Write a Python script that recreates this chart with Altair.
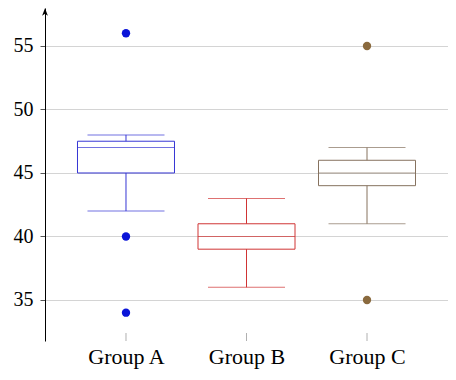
import altair as alt
import pandas as pd

groups = ["Group A", "Group B", "Group C"]
lower_whisker = [42, 36, 41]
q1 = [45, 39, 44]
median = [47, 40, 45]
q3 = [47.5, 41, 46]
upper_whisker = [48, 43, 47]
box_colors = ["#3636d4", "#d03434", "#86725f"]

outlier_group = ["Group A", "Group A", "Group A", "Group C", "Group C"]
outlier_value = [56, 40, 34, 55, 35]
outlier_colors = ["#0a14d8", "#d03434", "#8a6a3e"]

y_ticks = [35, 40, 45, 50, 55]

boxes = pd.DataFrame({
    "group": groups, "lo": lower_whisker, "q1": q1, "med": median,
    "q3": q3, "hi": upper_whisker,
})
outliers = pd.DataFrame({"group": outlier_group, "value": outlier_value})

FONT = "'Liberation Serif', 'Times New Roman', serif"
W, H = 403, 333

x_enc = alt.X("group:N", sort=groups,
              scale=alt.Scale(type="point", padding=0.672, domain=groups),
              axis=alt.Axis(title=None, domain=False, ticks=False, grid=False,
                            labelAngle=0, labelPadding=5, labelFont=FONT,
                            labelFontSize=22, labelColor="black"))
y_scale = alt.Scale(domain=[31.77, 57.99], nice=False, zero=False)
y_axis = alt.Axis(title=None, values=y_ticks, grid=True, gridColor="#d4d4d4",
                  domainColor="black", domainWidth=1, tickColor="#555555",
                  tickSize=5, labelPadding=7, labelFont=FONT, labelFontSize=20,
                  labelColor="black")
col = alt.Color("group:N", scale=alt.Scale(domain=groups, range=box_colors), legend=None)

base = alt.Chart(boxes)

whisk_up = base.mark_rule(strokeWidth=1).encode(
    x=x_enc, y=alt.Y("q3:Q", scale=y_scale, axis=y_axis), y2="hi:Q", color=col)
whisk_lo = base.mark_rule(strokeWidth=1).encode(
    x=x_enc, y=alt.Y("lo:Q", scale=y_scale), y2="q1:Q", color=col)
box = base.mark_bar(size=97, filled=False, strokeWidth=1).encode(
    x=x_enc, y=alt.Y("q1:Q", scale=y_scale), y2="q3:Q", color=col)
med = base.mark_tick(size=97, thickness=1).encode(
    x=x_enc, y=alt.Y("med:Q", scale=y_scale), color=col)
cap_hi = base.mark_tick(size=77, thickness=1).encode(
    x=x_enc, y=alt.Y("hi:Q", scale=y_scale), color=col)
cap_lo = base.mark_tick(size=77, thickness=1).encode(
    x=x_enc, y=alt.Y("lo:Q", scale=y_scale), color=col)

pts = alt.Chart(outliers).mark_circle(size=70, opacity=1).encode(
    x=x_enc, y=alt.Y("value:Q", scale=y_scale),
    fill=alt.Fill("group:N", scale=alt.Scale(domain=groups, range=outlier_colors), legend=None))

xticks = base.mark_rule(color="#b0b0b0", strokeWidth=1).encode(
    x=x_enc, y=alt.value(H - 8), y2=alt.value(H))

arrow = alt.Chart(alt.Data(values=[{"a": 1}])).mark_point(
    shape="M0,-1L0.75,1L0,0.45L-0.75,1Z", filled=True, color="black",
    size=60, opacity=1).encode(x=alt.value(0), y=alt.value(4))

chart = alt.layer(whisk_up, whisk_lo, box, med, cap_hi, cap_lo, xticks, pts, arrow).properties(
    width=W, height=H,
    padding={"left": 37, "top": 0, "right": 0, "bottom": 30},
    autosize=alt.AutoSizeParams(type="none"),
).configure_view(stroke=None)

chart.save("out.html", embed_options={"renderer": "svg", "actions": False})
